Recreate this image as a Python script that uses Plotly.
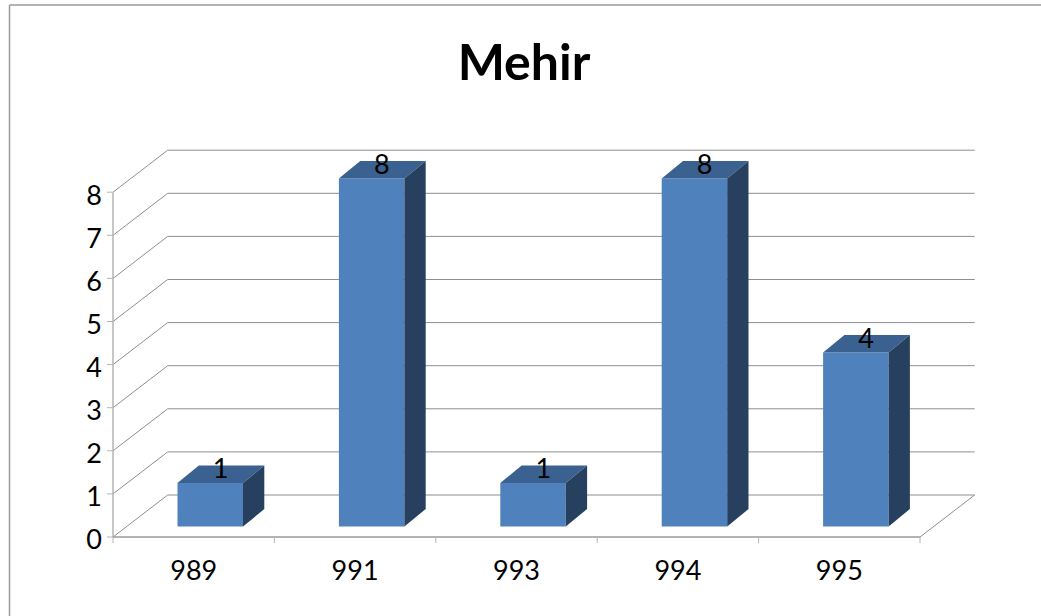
import plotly.graph_objects as go

# --- data ---
categories = ["989", "991", "993", "994", "995"]
values = [1, 8, 1, 8, 4]
y_ticks = [0, 1, 2, 3, 4, 5, 6, 7, 8]
title_text = "Mehir"

# --- pseudo-3D geometry (in axis units) ---
W, H = 1041, 616
X0_PX, Y0_PX = 113, 537          # screen position of the front-plane origin
UX, UY = 161.4, 43.1             # pixels per category / per value
L, R, T, B = 104, 979, 146, 545  # plot area edges in pixels

WALL_DX, WALL_DY = 54.7 / UX, 42 / UY
BAR_LEFT, BAR_W = 64.5 / UX, 65.5 / UX
BAR_BASE = 10.5 / UY
BAR_SCALE = 43.5 / UY
BAR_DX, BAR_DY = 21.3 / UX, 17.4 / UY
LABEL_DX, LABEL_DY = 43 / UX, 11.5 / UY
LABEL_SHIFT = 0.07

FONT = "Lato"
FRONT, TOP, SIDE = "#4F81BD", "#3A618F", "#28405F"
GRID, AXIS, BORDER = "#8E8E8E", "#B4B4B4", "#9A9A9A"

n = len(categories)
lefts = list(range(n))

fig = go.Figure()

# front faces
fig.add_bar(
    x=[i + BAR_LEFT + BAR_W / 2 for i in lefts],
    y=[v * BAR_SCALE for v in values],
    base=BAR_BASE,
    width=BAR_W,
    marker=dict(color=FRONT, line=dict(width=0)),
    hoverinfo="skip",
)

# top and side faces
for i, v in zip(lefts, values):
    xl = i + BAR_LEFT
    xr = xl + BAR_W
    yb = BAR_BASE
    yt = yb + v * BAR_SCALE
    fig.add_scatter(
        x=[xl, xr, xr + BAR_DX, xl + BAR_DX, xl],
        y=[yt, yt, yt + BAR_DY, yt + BAR_DY, yt],
        mode="lines", fill="toself", fillcolor=TOP,
        line=dict(width=0, color=TOP), hoverinfo="skip",
    )
    fig.add_scatter(
        x=[xr, xr + BAR_DX, xr + BAR_DX, xr, xr],
        y=[yb, yb + BAR_DY, yt + BAR_DY, yt, yb],
        mode="lines", fill="toself", fillcolor=SIDE,
        line=dict(width=0, color=SIDE), hoverinfo="skip",
    )

# data labels
fig.add_scatter(
    x=[i + BAR_LEFT + LABEL_DX for i in lefts],
    y=[BAR_BASE + v * BAR_SCALE + LABEL_DY for v in values],
    mode="text",
    text=[str(v) for v in values],
    textposition="middle center",
    textfont=dict(family=FONT, size=27, color="#000000"),
    hoverinfo="skip",
)

shapes = []


def seg(x0, y0, x1, y1, color=GRID, width=1):
    shapes.append(dict(type="line", xref="x", yref="y", x0=x0, y0=y0, x1=x1, y1=y1,
                       line=dict(color=color, width=width), layer="below"))


# back wall, side wall and floor
for t in y_ticks:
    seg(WALL_DX, t + WALL_DY, n + WALL_DX, t + WALL_DY)
    seg(0, t, WALL_DX, t + WALL_DY)
    seg(-6 / UX, t, 0, t, AXIS, 1)
seg(n, 0, n + WALL_DX, WALL_DY)
# front axes
seg(0, 0, 0, y_ticks[-1], AXIS, 1.5)
seg(0, 0, n, 0, "#9A9A9A", 1.5)
for i in range(n + 1):
    seg(i, 0, i, -6 / UY, AXIS, 1)


def px(x):
    return (x - L) / (R - L)


def py(y):
    return (B - y) / (B - T)


# chart-area border (only its top and left edges are in view)
for x0, y0, x1, y1 in [(9.5, 5, W, 5), (9.5, 5, 9.5, H)]:
    shapes.append(dict(type="line", xref="paper", yref="paper",
                       x0=px(x0), y0=py(y0), x1=px(x1), y1=py(y1),
                       line=dict(color=BORDER, width=1.5), layer="below"))

fig.update_layout(
    width=W, height=H,
    margin=dict(l=L, r=W - R, t=T, b=H - B, pad=0),
    paper_bgcolor="#FFFFFF", plot_bgcolor="rgba(0,0,0,0)",
    showlegend=False,
    shapes=shapes,
    title=dict(text=f"<b>{title_text}</b>", x=524 / W, y=1 - 62 / H,
               xanchor="center", yanchor="middle",
               font=dict(family=FONT, size=50, color="#000000")),
    xaxis=dict(
        range=[(L - X0_PX) / UX, (R - X0_PX) / UX],
        tickvals=[i + 0.5 for i in lefts], ticktext=categories,
        ticks="", showgrid=False, zeroline=False, showline=False,
        tickfont=dict(family=FONT, size=27, color="#000000"),
        ticklabelstandoff=7,
    ),
    yaxis=dict(
        range=[(Y0_PX - B) / UY, (Y0_PX - T) / UY],
        tickvals=[t - LABEL_SHIFT for t in y_ticks], ticktext=[str(t) for t in y_ticks],
        ticks="", showgrid=False, zeroline=False, showline=False,
        tickfont=dict(family=FONT, size=27, color="#000000"),
        ticklabelstandoff=1,
    ),
)

fig.write_html("out.html", config={"displayModeBar": False},
               post_script="document.body.style.margin='0';")
